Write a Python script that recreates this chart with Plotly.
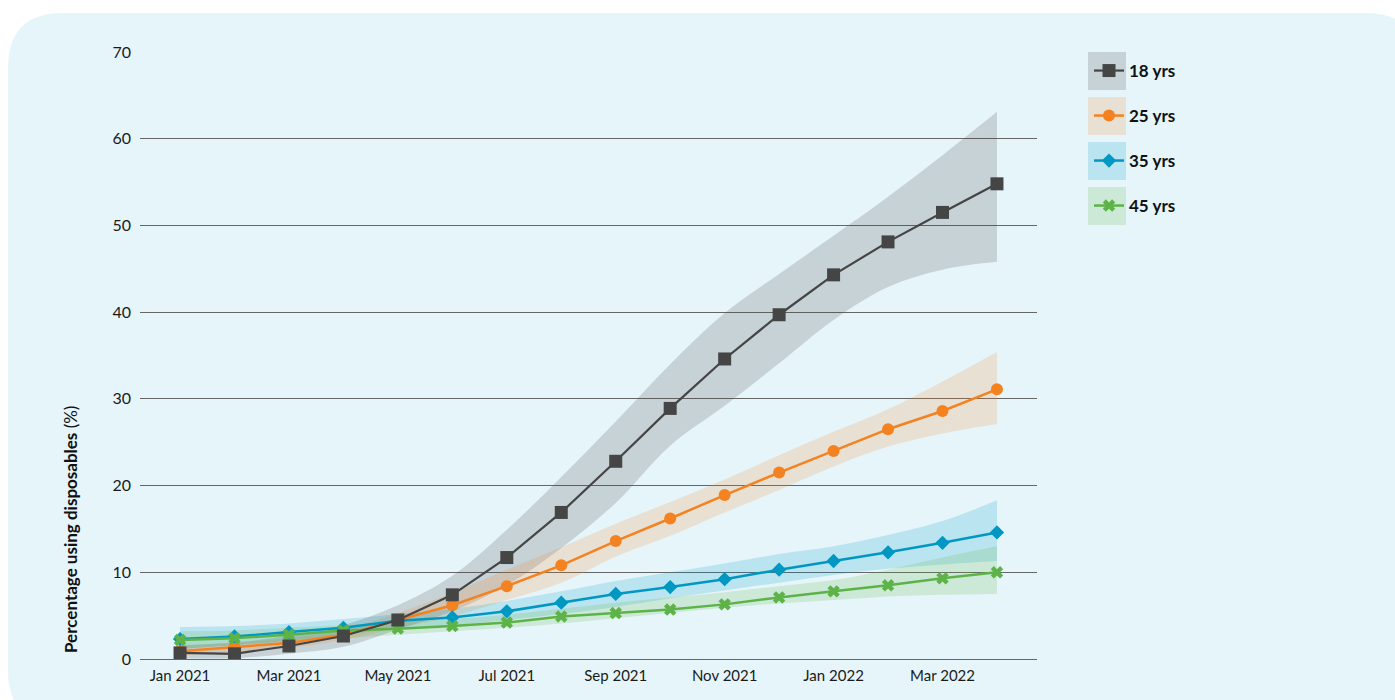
import plotly.graph_objects as go

# Monthly survey waves
months = ["Jan 2021", "Feb 2021", "Mar 2021", "Apr 2021", "May 2021", "Jun 2021",
          "Jul 2021", "Aug 2021", "Sep 2021", "Oct 2021", "Nov 2021", "Dec 2021",
          "Jan 2022", "Feb 2022", "Mar 2022", "Apr 2022"]
tick_labels = ["Jan 2021", "Mar 2021", "May 2021", "Jul 2021", "Sep 2021",
               "Nov 2021", "Jan 2022", "Mar 2022"]
y_ticks = [0, 10, 20, 30, 40, 50, 60, 70]

# Estimated prevalence (%) by age, with uncertainty bands
yrs18 = [0.7, 0.6, 1.5, 2.65, 4.5, 7.4, 11.7, 16.9, 22.8, 28.9, 34.6, 39.7, 44.3, 48.1, 51.5, 54.8]
yrs18_lo = [0.1, 0.1, 0.6, 1.4, 3.4, 5.5, 8.5, 12.8, 18.0, 24.6, 29.2, 34.1, 39.1, 42.9, 44.9, 45.8]
yrs18_hi = [1.6, 1.9, 2.7, 3.9, 6.2, 9.6, 14.9, 21.0, 27.4, 34.0, 39.9, 44.4, 48.8, 53.3, 58.1, 63.1]

yrs25 = [0.9, 1.4, 1.85, 2.8, 4.5, 6.2, 8.4, 10.8, 13.6, 16.2, 18.9, 21.5, 24.0, 26.5, 28.6, 31.1]
yrs25_lo = [0.4, 0.8, 1.3, 2.2, 3.6, 4.9, 6.8, 8.8, 11.8, 14.2, 16.9, 19.5, 22.2, 24.5, 26.0, 27.1]
yrs25_hi = [1.5, 1.9, 2.4, 3.4, 5.3, 7.6, 10.3, 12.9, 15.6, 18.1, 20.7, 23.5, 26.2, 28.8, 32.0, 35.4]

yrs35 = [2.3, 2.6, 3.1, 3.6, 4.4, 4.8, 5.5, 6.5, 7.5, 8.3, 9.2, 10.3, 11.3, 12.3, 13.4, 14.6]
yrs35_lo = [1.2, 1.6, 2.1, 2.8, 3.5, 3.9, 4.5, 5.2, 6.0, 7.0, 7.9, 8.8, 9.7, 10.4, 10.9, 11.3]
yrs35_hi = [3.7, 3.8, 4.1, 4.6, 5.2, 5.8, 6.7, 7.8, 9.0, 10.0, 11.0, 12.1, 13.0, 14.3, 15.9, 18.3]

yrs45 = [2.2, 2.4, 2.8, 3.3, 3.5, 3.8, 4.2, 4.9, 5.3, 5.7, 6.3, 7.1, 7.8, 8.5, 9.3, 10.0]
yrs45_lo = [1.2, 1.6, 2.0, 2.4, 2.8, 3.2, 3.6, 4.1, 4.7, 5.3, 5.9, 6.4, 6.8, 7.2, 7.4, 7.5]
yrs45_hi = [3.2, 3.3, 3.6, 3.9, 4.3, 4.6, 5.1, 5.8, 6.5, 7.1, 7.7, 8.4, 9.1, 10.3, 11.7, 13.0]

series = [
    # name, values, lower, upper, line colour, band colour, marker symbol, size
    ("18 yrs", yrs18, yrs18_lo, yrs18_hi, "#454545", "rgba(70,70,70,0.2)", "square", 13),
    ("25 yrs", yrs25, yrs25_lo, yrs25_hi, "#F58220", "rgba(243,131,36,0.19)", "circle", 12),
    ("35 yrs", yrs35, yrs35_lo, yrs35_hi, "#0098C3", "rgba(0,153,198,0.19)", "diamond", 11),
    ("45 yrs", yrs45, yrs45_lo, yrs45_hi, "#5DB347", "rgba(93,179,71,0.19)", "x", 11),
]

FONT = "Lato"
W_PX, H_PX = 1395, 700
L, R, T, B = 140, 1037, 52, 659


def px(x):
    return (x - L) / (R - L)


def py(y):
    return (B - y) / (B - T)


fig = go.Figure()

# Uncertainty bands
for name, vals, lo, hi, lc, bc, sym, sz in series:
    fig.add_trace(go.Scatter(x=months, y=lo, mode="lines", line=dict(width=0, shape="spline"),
                             showlegend=False, hoverinfo="skip"))
    fig.add_trace(go.Scatter(x=months, y=hi, mode="lines", line=dict(width=0, shape="spline"),
                             fill="tonexty", fillcolor=bc, showlegend=False, hoverinfo="skip"))

# Lines with markers; the 18 yrs series sits on top
legend_ids = {"18 yrs": "legend", "25 yrs": "legend2", "35 yrs": "legend3", "45 yrs": "legend4"}
draw_order = [1, 2, 3, 0]
for i in draw_order:
    name, vals, lo, hi, lc, bc, sym, sz = series[i]
    fig.add_trace(go.Scatter(
        x=months, y=vals, name=name, mode="lines+markers",
        line=dict(color=lc, width=2.5 if i else 2.2),
        marker=dict(symbol=sym, size=sz, color=lc, line=dict(width=0)),
        legend=legend_ids[name],
    ))

# Rounded background panel
x0, y0, x1, y1 = 8, 13, 1420, 725
rx, ry = 55, 55
pts = lambda a, b: f"{px(a):.5f},{py(b):.5f}"
panel_path = (
    f"M {pts(x0 + rx, y0)} L {pts(x1 - rx, y0)} Q {pts(x1, y0)} {pts(x1, y0 + ry)} "
    f"L {pts(x1, y1 - ry)} Q {pts(x1, y1)} {pts(x1 - rx, y1)} "
    f"L {pts(x0 + rx, y1)} Q {pts(x0, y1)} {pts(x0, y1 - ry)} "
    f"L {pts(x0, y0 + ry)} Q {pts(x0, y0)} {pts(x0 + rx, y0)} Z"
)
shapes = [dict(type="path", path=panel_path, xref="paper", yref="paper",
               fillcolor="#E6F5FA", line=dict(width=0), layer="below")]

# Legend swatches
box_tops = [52, 97, 142, 187]
legend_cfg = {}
for (name, vals, lo, hi, lc, bc, sym, sz), top in zip(series, box_tops):
    shapes.append(dict(type="rect", xref="paper", yref="paper",
                       x0=px(1088), x1=px(1126), y0=py(top + 38), y1=py(top),
                       fillcolor=bc, line=dict(width=0), layer="below"))
    legend_cfg[legend_ids[name]] = dict(
        x=px(1089), y=py(top + 19), xanchor="left", yanchor="middle",
        bgcolor="rgba(0,0,0,0)", borderwidth=0,
        font=dict(family=FONT, size=17, color="#111111", weight="bold"),
        itemsizing="trace",
    )

fig.update_layout(
    width=W_PX, height=H_PX,
    margin=dict(l=L, r=W_PX - R, t=T, b=H_PX - B),
    paper_bgcolor="white", plot_bgcolor="rgba(0,0,0,0)",
    shapes=shapes,
    showlegend=True,
    font=dict(family=FONT, color="#1a1a1a"),
    xaxis=dict(type="category", categoryorder="array", categoryarray=months,
               range=[-0.735, 15.735], tickmode="array", tickvals=tick_labels,
               ticktext=tick_labels, showgrid=False, zeroline=False, showline=False,
               ticks="", ticklabelstandoff=6,
               tickfont=dict(family=FONT, size=15, color="#1a1a1a")),
    yaxis=dict(range=[0, 70], tickvals=y_ticks, showgrid=True, gridcolor="#666666",
               gridwidth=1, zeroline=True, zerolinecolor="#666666", zerolinewidth=1,
               showline=False, ticks="", ticklabelstandoff=8,
               tickfont=dict(family=FONT, size=16, color="#1a1a1a")),
    annotations=[dict(text="<b>Percentage using disposables</b> (%)", xref="paper", yref="paper",
                      x=px(70), y=py(530), xanchor="center", yanchor="middle",
                      textangle=-90, showarrow=False,
                      font=dict(family=FONT, size=17, color="#111111"))],
    **legend_cfg,
)

fig.write_html("out.html")
